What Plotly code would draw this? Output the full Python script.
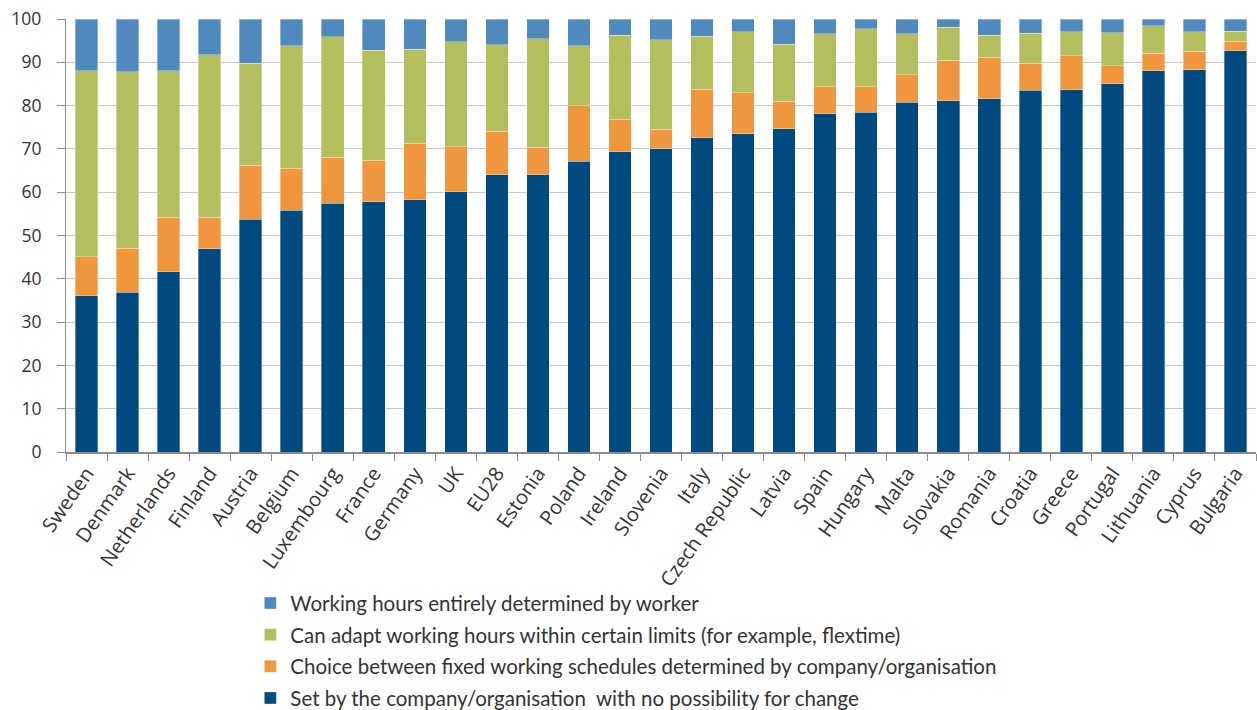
import plotly.graph_objects as go

countries = ["Sweden", "Denmark", "Netherlands", "Finland", "Austria", "Belgium",
             "Luxembourg", "France", "Germany", "UK", "EU28", "Estonia", "Poland",
             "Ireland", "Slovenia", "Italy", "Czech Republic", "Latvia", "Spain",
             "Hungary", "Malta", "Slovakia", "Romania", "Croatia", "Greece",
             "Portugal", "Lithuania", "Cyprus", "Bulgaria"]

set_by_company = [36.1, 36.9, 41.6, 46.9, 53.7, 55.8, 57.4, 57.8, 58.3, 60.1, 64.0, 64.0, 67.1,
                  69.3, 70.0, 72.6, 73.5, 74.6, 78.1, 78.5, 80.8, 81.1, 81.6, 83.5, 83.7,
                  85.1, 88.1, 88.3, 92.7]
choice_fixed = [9.0, 10.1, 12.6, 7.3, 12.5, 9.7, 10.7, 9.6, 13.0, 10.4, 10.1, 6.4, 12.9,
                7.5, 4.5, 11.2, 9.5, 6.4, 6.3, 5.9, 6.3, 9.4, 9.6, 6.3, 7.8,
                4.1, 4.0, 4.3, 2.2]
adapt_limits = [42.9, 40.8, 33.8, 37.5, 23.6, 28.3, 27.8, 25.4, 21.7, 24.3, 19.9, 25.0, 13.8,
                19.5, 20.7, 12.2, 14.0, 13.2, 12.2, 13.3, 9.5, 7.6, 5.1, 6.9, 5.5,
                7.6, 6.4, 4.5, 2.3]
worker_determined = [round(100 - a - b - c, 1) for a, b, c in zip(set_by_company, choice_fixed, adapt_limits)]

series = [
    ("Set by the company/organisation  with no possibility for change", set_by_company, "#004A80", 4),
    ("Choice between fixed working schedules determined by company/organisation", choice_fixed, "#F0973D", 3),
    ("Can adapt working hours within certain limits (for example, flextime)", adapt_limits, "#B3BE5D", 2),
    ("Working hours entirely determined by worker", worker_determined, "#4F8ABE", 1),
]

fig = go.Figure()
for i, (name, vals, col, rank) in enumerate(series):
    fig.add_trace(go.Bar(
        x=countries, y=vals, name=name, legendgroup=str(i), legendrank=rank,
        marker=dict(color=col, line=dict(color="rgba(255,255,255,0.55)", width=0.6)),
    ))

fig.update_layout(
    barmode="stack",
    bargap=0.45,
    width=1257, height=710,
    margin=dict(l=66, r=1, t=19, b=258, autoexpand=False),
    paper_bgcolor="white", plot_bgcolor="white",
    font=dict(family="Open Sans", size=20, color="#333333"),
    legend=dict(
        orientation="v", x=0.1549, y=-0.303, xanchor="left", yanchor="top",
        traceorder="grouped", tracegroupgap=2, bgcolor="rgba(0,0,0,0)",
        font=dict(family="Lato", size=20.5, color="#333333"),
        itemwidth=30,
    ),
    showlegend=True,
)
fig.update_xaxes(
    tickangle=-55, showline=True, linecolor="#8c8c8c", linewidth=1.5,
    ticks="outside", tickson="boundaries", ticklen=7, tickcolor="#8c8c8c",
    tickfont=dict(family="Open Sans", size=20, color="#333333"),
    showgrid=False, automargin=False,
)
fig.update_yaxes(
    range=[0, 100], dtick=10, showline=True, linecolor="#8c8c8c", linewidth=1.2,
    ticks="outside", ticklen=8, tickcolor="#8c8c8c", ticklabelstandoff=12,
    showgrid=True, gridcolor="#c8c8c8", gridwidth=1,
    tickfont=dict(family="Open Sans", size=17.5, color="#333333"),
    zeroline=False, automargin=False,
)

fig.write_html("out.html", config={"displayModeBar": False},
               post_script="document.body.style.margin='0';document.body.style.overflow='hidden';")
